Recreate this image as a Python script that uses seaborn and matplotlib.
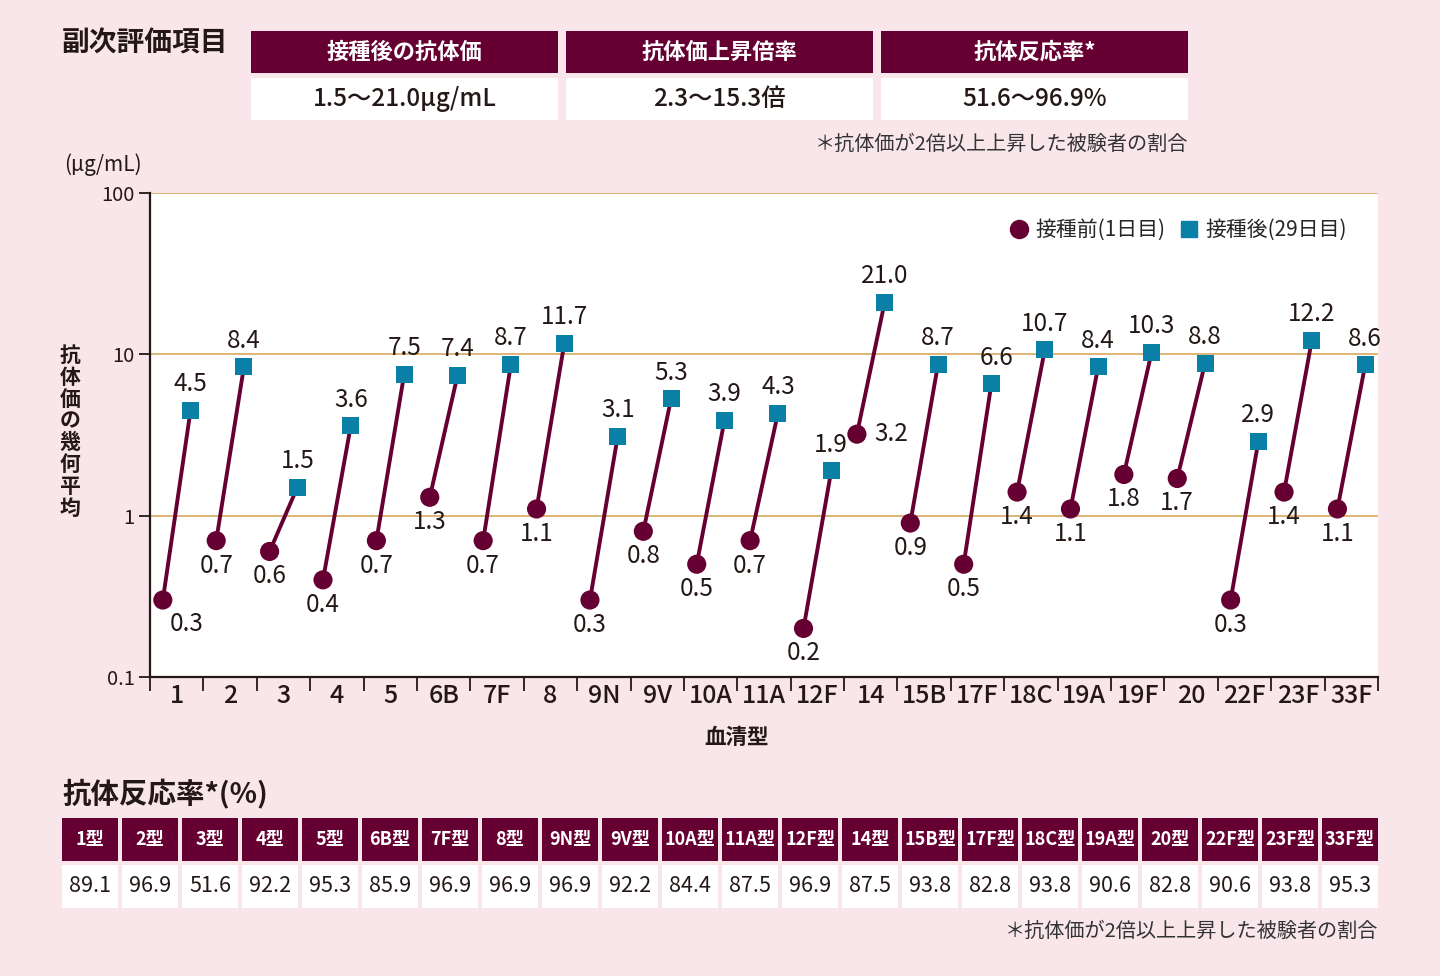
import numpy as np
import pandas as pd
import matplotlib
matplotlib.use("Agg")
import matplotlib.pyplot as plt
import seaborn as sns
from matplotlib.patches import Rectangle
from matplotlib.lines import Line2D
from matplotlib.ticker import NullLocator

# --- data ---
serotypes = ["1", "2", "3", "4", "5", "6B", "7F", "8", "9N", "9V", "10A", "11A",
             "12F", "14", "15B", "17F", "18C", "19A", "19F", "20", "22F", "23F", "33F"]
pre_gmc = [0.3, 0.7, 0.6, 0.4, 0.7, 1.3, 0.7, 1.1, 0.3, 0.8, 0.5, 0.7,
           0.2, 3.2, 0.9, 0.5, 1.4, 1.1, 1.8, 1.7, 0.3, 1.4, 1.1]
post_gmc = [4.5, 8.4, 1.5, 3.6, 7.5, 7.4, 8.7, 11.7, 3.1, 5.3, 3.9, 4.3,
            1.9, 21.0, 8.7, 6.6, 10.7, 8.4, 10.3, 8.8, 2.9, 12.2, 8.6]

summary_heads = ["接種後の抗体価", "抗体価上昇倍率", "抗体反応率*"]
summary_values = ["1.5〜21.0μg/mL", "2.3〜15.3倍", "51.6〜96.9%"]

rate_types = ["1型", "2型", "3型", "4型", "5型", "6B型", "7F型", "8型", "9N型", "9V型", "10A型",
              "11A型", "12F型", "14型", "15B型", "17F型", "18C型", "19A型", "20型", "22F型",
              "23F型", "33F型"]
rate_values = ["89.1", "96.9", "51.6", "92.2", "95.3", "85.9", "96.9", "96.9", "96.9", "92.2", "84.4",
               "87.5", "96.9", "87.5", "93.8", "82.8", "93.8", "90.6", "82.8", "90.6", "93.8", "95.3"]

footnote = "＊抗体価が2倍以上上昇した被験者の割合"

# colours
BG = "#f9e6ea"
MAROON = "#660033"
TEAL = "#0a80a6"
GOLD = "#d9a860"
INK = "#231815"

sns.set_theme(style="white")
plt.rcParams["font.family"] = ["Noto Sans CJK JP", "DejaVu Sans"]

n = len(serotypes)
idx = np.arange(n)
df = pd.DataFrame({
    "serotype": serotypes * 2,
    "time": ["pre"] * n + ["post"] * n,
    "gmc": pre_gmc + post_gmc,
    "x": np.concatenate([idx - 0.26, idx + 0.26]),
})

fig = plt.figure(figsize=(14.4, 9.76), dpi=100, facecolor=BG)

# overlay in pixel coords for tables and free text
ov = fig.add_axes([0, 0, 1, 1], zorder=0)
ov.set_xlim(0, 1440)
ov.set_ylim(976, 0)
ov.axis("off")

ax = fig.add_axes([150 / 1440, 1 - 677 / 976, 1228 / 1440, 484 / 976], zorder=1)
ax.set_facecolor("white")

for v in [1, 10, 100]:
    ax.axhline(v, color=GOLD, lw=1.2, zorder=0)

sns.lineplot(data=df, x="x", y="gmc", units="serotype", estimator=None, sort=False,
             color=MAROON, lw=2.8, legend=False, ax=ax, zorder=2)
sns.scatterplot(data=df, x="x", y="gmc", hue="time", style="time", size="time",
                palette={"pre": MAROON, "post": TEAL},
                markers={"pre": "o", "post": "s"},
                sizes={"pre": 190, "post": 150},
                linewidth=0, legend=False, ax=ax, zorder=3)

ax.set_yscale("log")
ax.set_ylim(0.1, 100)
ax.set_xlim(-0.5, n - 0.5)
ax.set_yticks([0.1, 1, 10, 100])
ax.set_yticklabels(["0.1", "1", "10", "100"])
ax.yaxis.set_minor_locator(NullLocator())
ax.tick_params(axis="y", which="major", length=8, width=1.3, color=INK, labelsize=14.5,
               labelcolor=INK, direction="out", left=True, pad=3)

ax.set_xticks(np.arange(-0.5, n), labels=[""] * (n + 1))
ax.set_xticks(idx, labels=serotypes, minor=True)
ax.tick_params(axis="x", which="major", length=10, width=1.3, color=INK, direction="out", bottom=True)
ax.tick_params(axis="x", which="minor", length=0, labelsize=18, labelcolor=INK, pad=4, bottom=True)
for lab in ax.get_xticklabels(minor=True):
    lab.set_fontweight("medium")
ax.set_xlabel("")
ax.set_ylabel("")

for s in ["top", "right"]:
    ax.spines[s].set_visible(False)
for s in ["left", "bottom"]:
    ax.spines[s].set_color(INK)
    ax.spines[s].set_linewidth(1.6)

# value labels
pre_shift = {"1": (24, -24), "14": (34, 0)}
post_shift = {"17F": (5, 25)}
for i, (name, a, b) in enumerate(zip(serotypes, pre_gmc, post_gmc)):
    dx, dy = pre_shift.get(name, (0, -25))
    ax.annotate(f"{a:.1f}", (i - 0.26, a), xytext=(dx, dy), textcoords="offset pixels",
                ha="center", va="center", fontsize=17.5, color=INK, zorder=4)
    dx, dy = post_shift.get(name, (0, 26))
    ax.annotate(f"{b:.1f}", (i + 0.26, b), xytext=(dx, dy), textcoords="offset pixels",
                ha="center", va="center", fontsize=17.5, color=INK, zorder=4)

handles = [
    Line2D([], [], marker="o", ls="none", color=MAROON, markersize=13, label="接種前(1日目)"),
    Line2D([], [], marker="s", ls="none", color=TEAL, markersize=12, label="接種後(29日目)"),
]
ax.legend(handles=handles, loc="upper right", bbox_to_anchor=(0.99, 0.985), ncol=2, frameon=False,
          fontsize=15, handletextpad=0.3, columnspacing=0.6, handlelength=1.0)

# axis titles
ov.text(64, 165, "(μg/mL)", fontsize=15, color=INK, ha="left", va="center")
ov.text(70, 432, "\n".join("抗体価の幾何平均"), fontsize=15, fontweight="bold", color=INK,
        ha="center", va="center", linespacing=1.05)
ov.text(737, 737, "血清型", fontsize=15.5, fontweight="bold", color=INK, ha="center", va="center")

# top summary table
ov.text(62, 43, "副次評価項目", fontsize=20, fontweight="bold", color=INK, ha="left", va="center")
for k, (h, v) in enumerate(zip(summary_heads, summary_values)):
    x0 = 251 + k * 315
    ov.add_patch(Rectangle((x0, 31), 307, 42, facecolor=MAROON, edgecolor="none"))
    ov.add_patch(Rectangle((x0, 78), 307, 42, facecolor="white", edgecolor="none"))
    ov.text(x0 + 153.5, 52, h, fontsize=16, fontweight="bold", color="white", ha="center", va="center")
    ov.text(x0 + 153.5, 99, v, fontsize=17.5, fontweight="medium", color=INK, ha="center", va="center")
ov.text(1188, 144, footnote, fontsize=14.5, color="#333333", ha="right", va="center")

# bottom response-rate table
ov.text(62, 793, "抗体反応率*(%)", fontsize=20.5, fontweight="bold", color=INK, ha="left", va="center")
for k, (t, v) in enumerate(zip(rate_types, rate_values)):
    x0 = 62 + k * 60
    ov.add_patch(Rectangle((x0, 818), 56, 43, facecolor=MAROON, edgecolor="none"))
    ov.add_patch(Rectangle((x0, 865), 56, 43, facecolor="white", edgecolor="none"))
    ov.text(x0 + 28, 839, t, fontsize=13, fontweight="bold", color="white", ha="center", va="center")
    ov.text(x0 + 28, 886, v, fontsize=15.5, color=INK, ha="center", va="center")
ov.text(1378, 931, footnote, fontsize=14.5, color="#333333", ha="right", va="center")

fig.savefig("out.png", dpi=100, facecolor=BG)
